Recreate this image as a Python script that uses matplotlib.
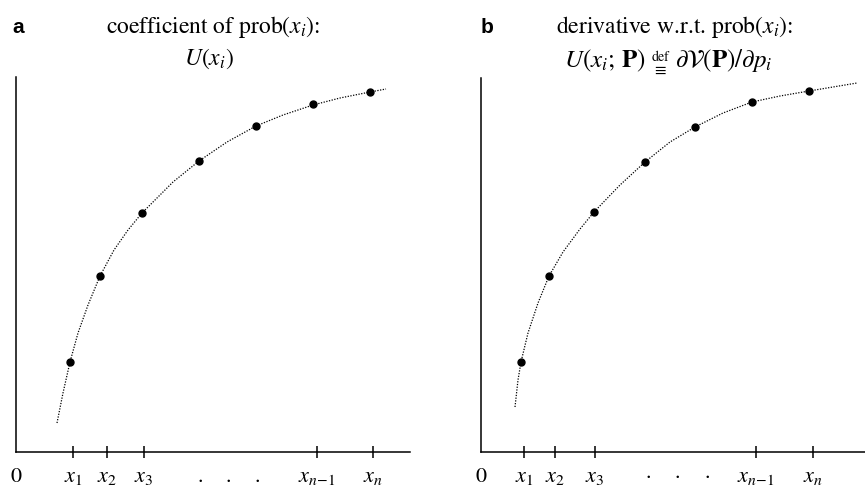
import matplotlib
matplotlib.use("Agg")
import matplotlib.pyplot as plt

plt.rcParams["mathtext.fontset"] = "stix"
plt.rcParams["font.family"] = ["STIXGeneral", "DejaVu Serif"]

# panel a: points on U(x_i)
a_pts_x = [54, 84, 126, 183, 240, 297, 354]
a_pts_y = [90, 176, 239, 291, 326, 348, 360]
# dotted curve
a_curve_x = [41, 47, 54, 62, 72, 84, 98, 112, 126, 157, 183, 211, 240, 267, 297, 324, 354, 370]
a_curve_y = [29, 59, 90, 119, 147, 176, 202, 222, 239, 270, 291, 310, 326, 337, 347, 354, 360, 363]
a_ticks = [57, 91, 128, 301, 357]
a_dots = [184, 212, 241]

# panel b: points on U(x_i;P)
b_pts_x = [40, 68, 113, 164, 214, 271, 328]
b_pts_y = [90, 176, 240, 290, 325, 350, 361]
b_curve_x = [34, 37, 40, 47, 57, 68, 82, 99, 113, 139, 164, 189, 214, 242, 271, 299, 328, 376]
b_curve_y = [45, 72, 90, 119, 149, 176, 200, 223, 240, 267, 290, 310, 325, 339, 350, 356, 361, 369]
b_ticks = [43, 74, 114, 275, 332]
b_dots = [167, 196, 226]

tick_labels = [r"$x_1$", r"$x_2$", r"$x_3$", r"$x_{n\!-\!1}$", r"$x_n$"]

W, H = 865, 486
fig = plt.figure(figsize=(W / 100, H / 100), dpi=100)


def make_axes(left, top, right, bottom):
    ax = fig.add_axes([left / W, 1 - bottom / H, (right - left) / W, (bottom - top) / H])
    ax.set_xlim(0, right - left)
    ax.set_ylim(0, bottom - top)
    for s in ["top", "right"]:
        ax.spines[s].set_visible(False)
    for s in ["left", "bottom"]:
        ax.spines[s].set_linewidth(1.1)
    ax.set_yticks([])
    return ax


def draw_panel(ax, cx, cy, px, py, ticks, dots, dotchar):
    ax.plot(cx, cy, color="black", lw=0.9, linestyle=(0, (1, 1.2)))
    ax.plot(px, py, "o", color="black", ms=5, zorder=3)
    pos = [0] + ticks + dots
    labels = ["0"] + tick_labels + [dotchar] * len(dots)
    ax.set_xticks(pos, labels, fontsize=16)
    ax.tick_params(axis="x", direction="inout", length=9, width=1.1, pad=6.5)
    for k, t in enumerate(ax.xaxis.get_major_ticks()):
        if labels[k] in ("0", dotchar):
            t.tick1line.set_visible(False)


ax_a = make_axes(16, 77, 410, 452)
draw_panel(ax_a, a_curve_x, a_curve_y, a_pts_x, a_pts_y, a_ticks, a_dots, ".")

ax_b = make_axes(481, 78, 865, 452)
draw_panel(ax_b, b_curve_x, b_curve_y, b_pts_x, b_pts_y, b_ticks, b_dots, "·")


def ftext(x, y, s, **kw):
    # place text at pixel position (from top-left)
    fig.text(x / W, 1 - y / H, s, **kw)


# panel letters and headings
ftext(12, 33, "a", fontsize=15, fontweight="bold", family="Liberation Sans", va="baseline")
ftext(481, 33, "b", fontsize=15, fontweight="bold", family="Liberation Sans", va="baseline")

ftext(213, 33, r"coefficient of prob($x_i$):", fontsize=17, ha="center", va="baseline")
ftext(209, 65, r"$U(x_i)$", fontsize=17, ha="center", va="baseline")

ftext(675, 33, r"derivative w.r.t. prob($x_i$):", fontsize=17, ha="center", va="baseline")
# second line of b, "def" stacked over the identity sign
ftext(645, 67, r"$U(x_i;\,\mathbf{P})$", fontsize=18, ha="right", va="baseline")
ftext(660, 61, "def", fontsize=10, ha="center", va="baseline")
ftext(660, 71, r"$\equiv$", fontsize=12, ha="center", va="center")
ftext(675, 67, r"$\partial\mathcal{V}(\mathbf{P})/\partial p_i$", fontsize=18,
      ha="left", va="baseline")

fig.savefig("out.png", dpi=100)
